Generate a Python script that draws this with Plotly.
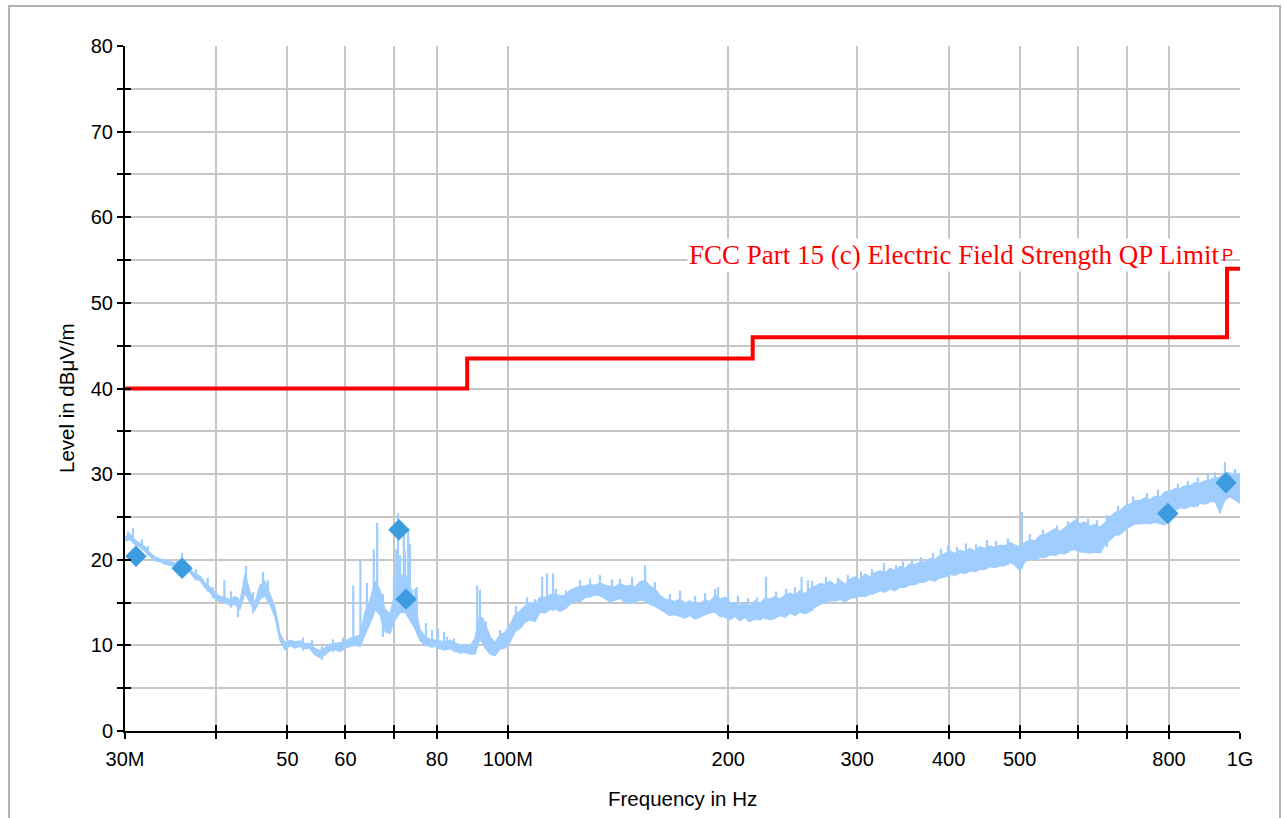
import math
import plotly.graph_objects as go

# ---------------- data ----------------
# measurement sweep: frequency in MHz, lower / upper envelope of the trace in dBuV/m
freq_mhz = [
    30.00, 30.47, 30.95, 31.44, 31.94, 32.45, 32.96, 33.48, 34.01, 34.55,
    35.11, 35.66, 36.23, 36.80, 37.38, 37.98, 38.58, 39.19, 39.81, 40.44,
    41.09, 41.74, 42.40, 43.07, 43.75, 44.45, 45.15, 45.86, 46.59, 47.33,
    48.09, 48.85, 49.62, 50.41, 51.20, 52.01, 52.83, 53.67, 54.52, 55.38,
    56.27, 57.16, 58.06, 58.98, 59.91, 60.88, 61.84, 62.82, 63.81, 64.82,
    65.86, 66.90, 67.96, 69.03, 70.13, 71.25, 72.37, 73.52, 74.68, 75.87,
    77.08, 78.30, 79.54, 80.80, 82.08, 83.39, 84.71, 86.05, 87.41, 88.80,
    90.18, 91.61, 93.06, 94.54, 96.04, 97.57, 99.11, 100.68, 102.28, 103.90,
    105.55, 107.22, 108.92, 110.65, 112.40, 114.19, 115.99, 117.83, 119.70, 121.60,
    123.54, 125.49, 127.48, 129.50, 131.56, 133.64, 135.76, 137.91, 140.10, 142.32,
    144.58, 146.87, 149.20, 151.56, 153.96, 156.36, 158.83, 161.35, 163.91, 166.50,
    169.18, 171.86, 174.58, 177.35, 180.16, 183.02, 185.92, 188.87, 191.86, 194.90,
    198.0, 201.1, 204.3, 207.6, 210.9, 214.2, 217.6, 221.0, 224.5, 228.1,
    231.7, 235.4, 239.1, 242.9, 246.7, 250.7, 254.6, 258.7, 262.8, 266.9,
    271.1, 275.4, 279.8, 284.2, 288.7, 293.3, 297.9, 302.6, 307.4, 312.3,
    317.3, 322.3, 327.4, 332.6, 337.9, 343.2, 348.7, 354.2, 359.8, 365.5,
    371.3, 377.2, 383.1, 389.2, 395.4, 401.7, 408.0, 414.5, 421.0, 427.7,
    434.6, 441.5, 448.4, 455.5, 462.8, 470.0, 477.5, 485.0, 492.7, 500.5,
    508.5, 516.5, 524.7, 533.0, 541.5, 550.1, 558.8, 567.6, 576.6, 585.8,
    595.2, 604.6, 614.2, 623.9, 633.8, 643.9, 654.1, 664.5, 675.0, 685.7,
    696.5, 707.6, 718.8, 730.2, 741.7, 753.5, 765.4, 777.5, 789.9, 802.4,
    814.9, 827.8, 840.9, 854.2, 867.8, 881.6, 895.6, 909.8, 924.2, 938.9,
    953.8, 968.9, 984.3, 1000.0,
]
level_lo = [
    22.2, 22.4, 21.8, 21.5, 21.0, 20.4, 19.9, 19.8, 19.5, 19.4,
    19.2, 19.5, 19.1, 18.5, 17.8, 17.6, 16.8, 16.2, 15.5, 15.1,
    15.0, 14.7, 14.8, 14.3, 16.2, 15.0, 14.1, 15.4, 15.8, 14.8,
    13.3, 10.6, 9.5, 10.0, 9.7, 9.9, 9.6, 9.7, 8.9, 8.6,
    8.9, 9.4, 9.5, 9.3, 9.7, 9.9, 10.0, 9.9, 11.2, 12.6,
    14.2, 13.6, 11.6, 11.4, 13.0, 13.8, 13.9, 13.0, 12.0, 10.6,
    10.0, 9.9, 9.9, 9.6, 9.5, 9.6, 9.4, 9.1, 9.2, 9.0,
    9.0, 10.8, 9.8, 9.0, 8.8, 9.6, 9.7, 10.4, 11.6, 12.0,
    12.7, 13.0, 12.8, 13.9, 13.8, 14.2, 14.3, 14.0, 14.3, 14.8,
    15.2, 15.1, 15.6, 15.7, 15.9, 15.8, 15.5, 15.1, 15.3, 15.5,
    15.0, 14.9, 15.1, 15.3, 15.2, 14.8, 14.6, 14.2, 13.8, 13.5,
    13.6, 13.4, 13.2, 13.5, 13.1, 13.3, 13.6, 13.8, 13.9, 13.4,
    13.3, 13.0, 13.4, 12.9, 13.3, 12.8, 13.1, 13.0, 13.3, 13.0,
    13.2, 13.5, 13.3, 13.8, 13.5, 13.9, 13.7, 14.0, 14.5, 14.8,
    15.0, 15.2, 15.2, 15.4, 15.1, 15.5, 15.6, 15.8, 15.7, 16.0,
    16.1, 16.4, 16.2, 16.6, 16.4, 16.8, 16.8, 17.1, 17.1, 17.4,
    17.4, 17.7, 17.5, 17.9, 18.0, 18.3, 18.2, 18.5, 18.4, 18.7,
    18.6, 18.9, 18.9, 19.2, 19.1, 19.3, 19.3, 19.7, 19.4, 18.7,
    19.8, 20.1, 20.0, 20.3, 20.3, 20.6, 20.5, 20.8, 20.7, 21.1,
    21.2, 20.9, 20.9, 20.8, 20.9, 20.8, 21.8, 22.3, 22.9, 23.0,
    23.5, 23.9, 24.2, 24.2, 24.3, 24.2, 24.4, 24.2, 24.1, 25.6,
    25.8, 26.1, 26.0, 26.3, 26.2, 26.6, 26.5, 26.8, 26.8, 25.6,
    27.0, 27.4, 27.0, 26.6,
]
level_hi = [
    22.6, 23.0, 22.3, 21.9, 21.5, 20.8, 20.3, 20.1, 19.9, 19.8,
    19.6, 20.0, 19.5, 18.9, 18.3, 18.1, 17.3, 16.8, 16.1, 15.7,
    15.6, 15.3, 15.7, 15.0, 18.3, 16.2, 14.9, 17.0, 17.5, 15.9,
    14.4, 11.3, 10.3, 10.6, 10.4, 10.5, 10.2, 10.2, 9.6, 9.4,
    9.7, 10.1, 10.2, 10.3, 10.4, 10.8, 11.0, 11.2, 13.8, 15.2,
    17.5, 16.4, 14.2, 13.6, 16.0, 18.0, 18.4, 17.0, 14.6, 11.8,
    11.0, 10.7, 10.6, 10.5, 10.4, 10.6, 10.3, 10.0, 10.1, 9.9,
    10.8, 13.5, 12.6, 11.0, 10.3, 11.2, 11.5, 12.4, 13.6, 14.0,
    14.6, 15.0, 14.8, 15.6, 15.6, 15.9, 16.0, 15.8, 15.8, 16.4,
    16.7, 16.9, 16.9, 17.1, 17.0, 17.3, 17.0, 16.9, 16.8, 17.2,
    16.9, 17.0, 16.8, 17.4, 17.6, 16.9, 16.6, 15.8, 15.4, 15.3,
    15.1, 15.4, 14.9, 15.2, 14.8, 14.9, 15.3, 15.1, 15.8, 15.4,
    15.6, 15.0, 14.9, 14.6, 15.0, 14.5, 15.2, 14.9, 15.5, 15.4,
    15.7, 15.4, 15.9, 16.1, 15.8, 16.4, 16.0, 16.6, 16.9, 17.2,
    17.1, 17.5, 17.0, 17.6, 17.1, 17.7, 18.0, 17.6, 18.3, 18.0,
    18.5, 18.7, 18.4, 19.0, 18.7, 19.2, 19.0, 19.5, 19.4, 19.7,
    19.7, 20.1, 20.0, 20.5, 20.7, 21.0, 20.7, 21.1, 20.9, 21.3,
    21.0, 21.5, 21.3, 21.6, 21.4, 21.7, 21.6, 22.0, 21.7, 21.5,
    22.0, 22.3, 22.2, 22.8, 22.9, 23.3, 23.6, 23.3, 23.7, 24.1,
    24.6, 24.2, 24.4, 23.9, 24.1, 23.8, 24.3, 25.0, 25.5, 25.7,
    26.3, 26.5, 26.9, 26.9, 27.2, 27.0, 27.4, 27.3, 27.9, 28.0,
    28.3, 28.3, 28.6, 28.6, 29.0, 28.9, 29.2, 29.3, 29.6, 29.6,
    30.2, 30.1, 30.0, 30.0,
]

# narrow spikes of the sweep: frequency (MHz), bottom and top level
spike_freq = [
    30.28, 30.76, 31.64, 32.24, 35.9, 37.50, 38.9, 39.56, 41.0, 41.87,
    42.80, 43.9, 44.87, 46.3, 47.03, 52.50, 54.01, 55.73, 57.70, 59.54,
    61.5, 62.9, 64.2, 65.23, 65.6, 66.3, 67.5, 68.4, 69.90, 70.4,
    70.8, 71.25, 72.1, 72.37, 73.1, 73.5, 73.98, 74.68, 75.1, 77.3,
    78.79, 80.3, 81.8, 82.60, 84.45, 90.8, 91.61, 92.48, 93.35, 97.57,
    100.05, 102.6, 106.2, 108.9, 111.4, 113.1, 115.3, 116.35, 120.08, 125.5,
    129.5, 133.6, 138.78, 142.32, 147.8, 154.0, 158.83, 166.5, 171.9, 180.16,
    185.92, 191.9, 193.68, 199.9, 206.2, 212.9, 219.0, 225.2, 232.4, 239.9,
    246.7, 251.9, 257.0, 260.3, 271.95, 282.5, 291.4, 303.6, 314.3, 326.4,
    339.0, 346.5, 356.4, 366.7, 380.8, 390.4, 399.2, 410.6, 422.3, 436.0,
    451.2, 464.3, 482.0, 503.7, 516.5, 538.1, 562.3, 582.1, 599.0, 620.0,
    637.8, 658.2, 681.4, 714.3, 746.4, 772.7, 822.6, 848.9, 876.0, 904.1,
    924.2, 938.9, 953.8, 984.3,
]
spike_lo = [
    22.2, 22.0, 21.2, 20.5, 19.6, 17.6, 16.3, 15.5, 15.0, 14.4,
    13.3, 16.0, 13.8, 15.6, 15.0, 9.4, 9.3, 8.3, 9.2, 9.4,
    10.2, 11.0, 13.0, 13.0, 15.0, 15.5, 11.0, 11.5, 13.5, 14.5,
    15.0, 14.5, 14.0, 14.8, 14.5, 14.0, 13.0, 12.5, 11.4, 10.0,
    9.7, 9.6, 9.4, 9.6, 9.2, 10.0, 11.0, 10.5, 9.6, 9.6,
    10.0, 12.0, 12.8, 13.0, 14.2, 14.4, 14.0, 14.3, 14.3, 15.0,
    15.6, 15.8, 15.2, 15.5, 15.0, 15.2, 14.6, 13.5, 13.4, 13.1,
    13.6, 14.0, 13.8, 13.2, 13.0, 12.8, 13.0, 13.0, 13.3, 13.5,
    13.6, 14.0, 14.0, 14.0, 15.0, 15.2, 15.3, 15.7, 15.9, 16.2,
    16.5, 16.8, 17.0, 17.3, 17.5, 17.8, 18.0, 18.3, 18.5, 18.6,
    19.0, 19.2, 19.4, 19.0, 20.0, 20.2, 20.6, 20.8, 21.0, 20.9,
    20.8, 21.5, 22.8, 24.0, 24.2, 24.3, 25.9, 26.1, 26.2, 26.6,
    26.8, 25.4, 27.0, 27.0,
]
spike_hi = [
    23.3, 23.7, 22.4, 21.6, 20.8, 18.9, 17.9, 16.8, 17.6, 16.3,
    15.6, 19.3, 16.2, 18.6, 17.6, 10.9, 10.6, 9.9, 10.7, 10.9,
    17.0, 20.0, 17.3, 16.0, 21.2, 24.3, 16.0, 14.0, 18.0, 21.2,
    25.4, 20.5, 23.3, 21.0, 23.7, 21.8, 16.5, 16.6, 16.8, 12.6,
    11.8, 12.0, 11.6, 11.0, 10.8, 17.0, 16.5, 13.2, 12.8, 11.8,
    12.0, 14.6, 15.6, 15.4, 18.0, 18.4, 18.4, 16.6, 16.4, 17.6,
    17.8, 18.2, 17.7, 17.8, 18.0, 19.4, 17.4, 16.0, 16.4, 15.8,
    16.1, 16.6, 16.8, 16.4, 15.8, 15.5, 15.6, 18.0, 16.3, 16.6,
    16.8, 18.0, 17.6, 17.5, 18.0, 17.9, 18.2, 18.6, 18.9, 19.6,
    19.4, 19.8, 20.1, 20.3, 20.8, 21.3, 21.6, 21.5, 21.9, 21.8,
    22.3, 22.2, 22.5, 25.6, 23.0, 23.5, 24.0, 24.5, 25.0, 24.8,
    24.6, 25.2, 26.3, 27.4, 27.8, 28.2, 28.9, 29.2, 29.6, 29.9,
    30.2, 29.7, 31.4, 30.6,
]

# final (peak) measurement points
peak_freq = [31.05, 35.9, 71.0, 72.6, 797.0, 957.0]
peak_level = [20.4, 19.0, 23.5, 15.4, 25.4, 29.0]

# FCC Part 15 limit (step function)
limit_freq = [30, 88, 216, 960, 1000]
limit_level = [40, 43.5, 46, 54, 54]
limit_name = "FCC Part 15 (c) Electric Field Strength QP Limit"

x_tickvals = [30, 40, 50, 60, 70, 80, 100, 200, 300, 400, 500, 600, 700, 800, 1000]
x_ticktext = ["30M", "", "50", "60", "", "80", "100M", "200", "300", "400", "500", "", "", "800", "1G"]
y_tickvals = list(range(0, 81, 5))
y_ticktext = [str(v) if v % 10 == 0 else "" for v in y_tickvals]

# ---------------- styling ----------------
TRACE = "#9fcdfd"
PEAK = "#3d9be0"
RED = "#ff0000"
GRID = "#c6c6c6"
SANS = "Liberation Sans, Arial, sans-serif"
SERIF = "Liberation Serif, Times New Roman, serif"

W, H = 1283, 818
ML, MR, MT, MB = 125, 43, 46, 87
PW, PH = W - ML - MR, H - MT - MB


def px_x(px):
    return (px - ML) / PW


def px_y(py):
    return (H - MB - py) / PH


fig = go.Figure()

fig.add_trace(go.Scatter(x=freq_mhz, y=level_lo, mode="lines",
                         line=dict(color=TRACE, width=1.5),
                         hoverinfo="skip", showlegend=False))
fig.add_trace(go.Scatter(x=freq_mhz, y=level_hi, mode="lines",
                         line=dict(color=TRACE, width=1.5),
                         fill="tonexty", fillcolor=TRACE,
                         hoverinfo="skip", showlegend=False))

sx, sy = [], []
for f, lo, hi in zip(spike_freq, spike_lo, spike_hi):
    sx += [f, f, None]
    sy += [lo, hi, None]
fig.add_trace(go.Scatter(x=sx, y=sy, mode="lines",
                         line=dict(color=TRACE, width=2.2),
                         hoverinfo="skip", showlegend=False))

fig.add_trace(go.Scatter(x=peak_freq, y=peak_level, mode="markers",
                         marker=dict(symbol="diamond", size=16.5, color=PEAK,
                                     line=dict(width=0)),
                         showlegend=False))

fig.add_trace(go.Scatter(x=limit_freq, y=limit_level, mode="lines",
                         line=dict(color=RED, width=4, shape="hv"),
                         xaxis="x2", yaxis="y2", showlegend=False))

xrange = [math.log10(30), math.log10(1000)]
common_x = dict(type="log", range=xrange, tickmode="array", tickvals=x_tickvals,
                ticklen=6, tickwidth=2, tickcolor="black", zeroline=False)
common_y = dict(range=[0, 80], tickmode="array", tickvals=y_tickvals,
                ticklen=6, tickwidth=2, tickcolor="black", zeroline=False)

fig.update_layout(
    width=W, height=H,
    margin=dict(l=ML, r=MR, t=MT, b=MB),
    paper_bgcolor="white", plot_bgcolor="white",
    font=dict(family=SANS, size=20, color="black"),
    xaxis=dict(**common_x, ticktext=x_ticktext, ticks="outside",
               showline=True, linecolor="black", linewidth=2,
               showgrid=True, gridcolor=GRID, gridwidth=2,
               ticklabelstandoff=3,
               tickfont=dict(family=SANS, size=20, color="black")),
    yaxis=dict(**common_y, ticktext=y_ticktext, ticks="outside",
               showline=True, linecolor="black", linewidth=2,
               showgrid=True, gridcolor=GRID, gridwidth=2,
               tickfont=dict(family=SANS, size=20, color="black")),
    xaxis2=dict(**common_x, overlaying="x", anchor="y2", side="bottom",
                ticks="inside", showticklabels=False, showgrid=False, showline=False),
    yaxis2=dict(**common_y, overlaying="y", anchor="x2", side="left",
                ticks="inside", showticklabels=False, showgrid=False, showline=False),
    showlegend=False,
)

fig.add_annotation(text=limit_name, xref="paper", yref="y", x=px_x(1221), y=55.6,
                   xanchor="right", yanchor="middle", showarrow=False,
                   bgcolor="white", borderpad=1,
                   font=dict(family=SERIF, size=27, color=RED))
fig.add_annotation(text="P", xref="paper", yref="paper", x=px_x(1227), y=px_y(256),
                   xanchor="center", yanchor="middle", showarrow=False,
                   font=dict(family=SANS, size=17, color=RED))

fig.add_annotation(text="Frequency in Hz", xref="paper", yref="paper",
                   x=0.5, y=px_y(798), xanchor="center", yanchor="middle",
                   showarrow=False, font=dict(family=SANS, size=20.5, color="black"))
fig.add_annotation(text="Level in dBμV/m", xref="paper", yref="paper",
                   x=px_x(66), y=px_y(398), xanchor="center", yanchor="middle",
                   textangle=-90, showarrow=False,
                   font=dict(family=SANS, size=20.5, color="black"))

fig.add_shape(type="rect", xref="paper", yref="paper",
              x0=px_x(9), x1=px_x(1280), y0=px_y(840), y1=px_y(6),
              line=dict(color="#b4b4b4", width=2), fillcolor="rgba(0,0,0,0)",
              layer="above")

fig.write_html("out.html")
